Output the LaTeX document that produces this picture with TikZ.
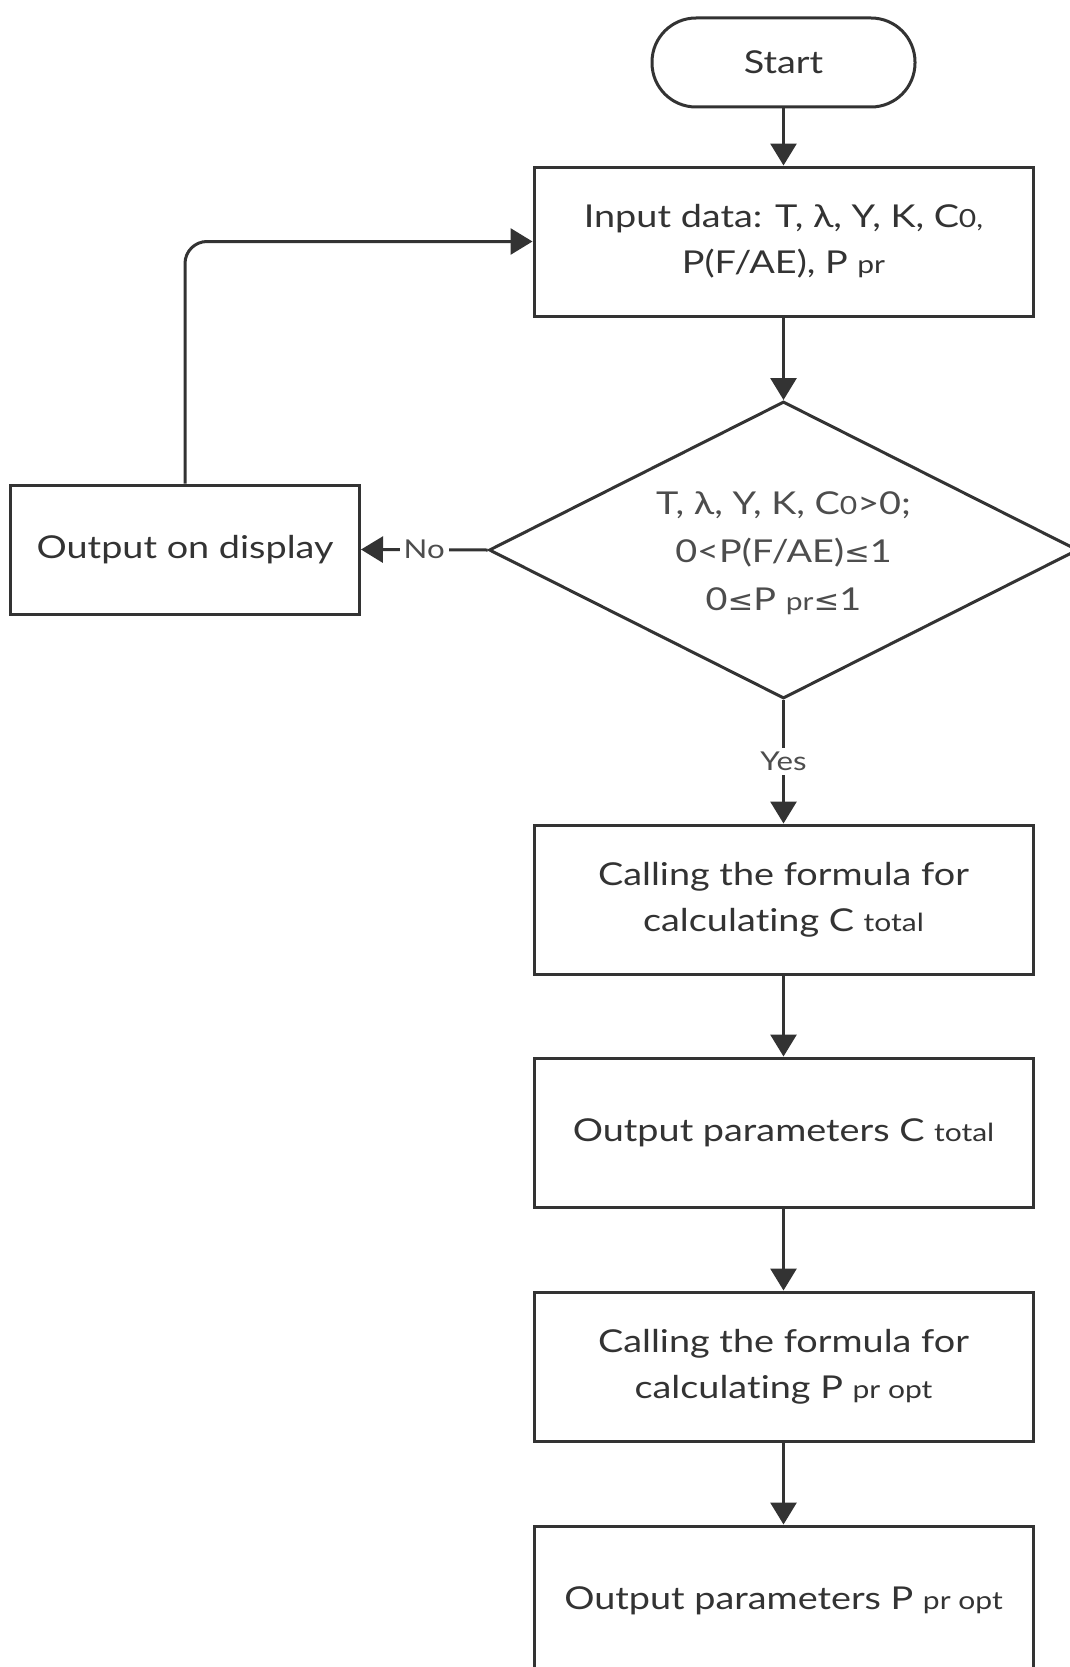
\documentclass[tikz,border=0pt]{standalone}
\usepackage{fontspec}
\setmainfont{Lato}[FakeStretch=1.2, Ligatures={NoCommon,NoRare,NoContextual}]
\newfontfamily\symfont{DejaVu Sans}[FakeStretch=1.1]
\usetikzlibrary{arrows.meta,shapes.geometric}
\definecolor{ink}{HTML}{333333}
\definecolor{txt}{HTML}{333333}
\definecolor{soft}{HTML}{4D4D4D}
% smaller index text set on the baseline
\newcommand\idx[1]{{\fontsize{25}{25}\selectfont #1}}
\newcommand\lesseq{{\symfont\fontsize{28}{28}\selectfont ≤}}
% keeps t and i apart
\newcommand\calc{calcula\kern0pt ting}
\begin{document}
\begin{tikzpicture}[x=1pt,y=-1pt,
  procbox/.style={draw=ink, line width=3pt, fill=white, minimum width=499pt,
    minimum height=149pt, align=center, text=txt, inner sep=0pt,
    font=\fontsize{31.5}{46}\selectfont},
  termbox/.style={draw=ink, line width=3pt, fill=white, minimum width=263pt,
    minimum height=89pt, rounded corners=44pt, text=txt, inner sep=0pt,
    font=\fontsize{31.5}{36}\selectfont},
  decbox/.style={draw=ink, line width=3pt, diamond, minimum width=589pt,
    minimum height=297pt, inner sep=0pt},
  flow/.style={draw=ink, line width=3pt, -{Triangle[width=26pt,length=22pt]}},
  lbl/.style={fill=white, text=soft, inner sep=4pt, font=\fontsize{26}{30}\selectfont},
]
\useasboundingbox (0,0) rectangle (1070,1667);

\node[termbox] (start) at (783.5,62.5) {Start};
\node[procbox] (input) at (783.5,241.5) {Input data: T, λ, Y, K, C\idx{0,}\\P(F/AE), P \idx{pr}};
\node[decbox] (dec) at (783.5,550) {};
\node[align=center, text=soft, font=\fontsize{31.5}{48}\selectfont] (dectext) at (783.5,553)
  {T, λ, Y, K, C\idx{0}>0;\\0<P(F/AE)\lesseq1\\0\lesseq P \idx{pr}\lesseq1};
\node[procbox, minimum width=349pt, minimum height=129pt] (disp) at (185,549.5) {Output on display};
\node[procbox] (calcC) at (783.5,899.5) {Calling the formula for\\\calc{} C \idx{total}};
\node[procbox] (outC) at (783.5,1132.5) {Output parameters C \idx{total}};
\node[procbox] (calcP) at (783.5,1366.5) {Calling the formula for\\\calc{} P \idx{pr opt}};
\node[procbox] (outP) at (783.5,1600.5) {Output parameters P \idx{pr opt}};

\draw[flow] (start) -- (input);
\draw[flow] (input) -- (dec.north);
\draw[flow] (dec.west) -- node[lbl]{No} (disp.east);
\draw[flow, rounded corners=22pt] (disp.north) |- (input.west);
\draw[flow] (dec.south) -- node[lbl]{Yes} (calcC.north);
\draw[flow] (calcC) -- (outC);
\draw[flow] (outC) -- (calcP);
\draw[flow] (calcP) -- (outP);
\end{tikzpicture}
\end{document}
